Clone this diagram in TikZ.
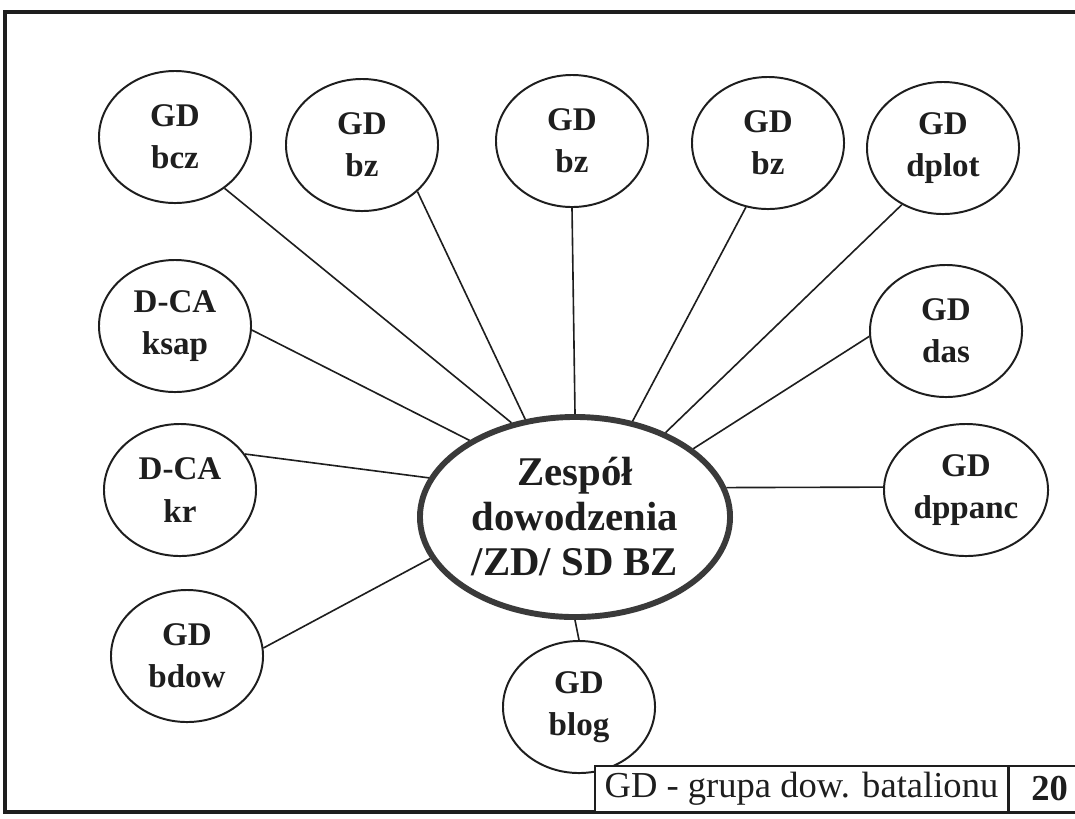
\documentclass[tikz,border=0pt]{standalone}
\usepackage{fontspec}
\setmainfont{Liberation Serif}
\usetikzlibrary{shapes.geometric, positioning}
\usepackage{xcolor}
\definecolor{cInk}{HTML}{1E1E1E}
\definecolor{cRim}{HTML}{3A3A3A}

\begin{document}
\begin{tikzpicture}[x=0.025cm, y=-0.025cm,
    unit/.style={ellipse, draw=cInk, line width=1.4pt, fill=white,
      minimum width=3.8cm, minimum height=3.3cm, inner sep=0pt,
      align=center, text=cInk, font=\fontsize{23.5}{30}\selectfont\bfseries},
    link/.style={draw=cInk, line width=1.15pt}]
  \useasboundingbox (0,0) rectangle (1075,818);
  \clip (0,0) rectangle (1075,818);

  % page frame
  \draw[cInk, line width=2.2pt] (5,12) rectangle (1090,812);

  % command team in the middle
  \node[ellipse, draw=cRim, line width=4.2pt, minimum width=7.75cm,
        minimum height=5cm, inner sep=0pt, align=center, text=cInk,
        font=\fontsize{29}{32}\selectfont\bfseries]
    (zd) at (575,517) {Zespół\\dowodzenia\\/ZD/ SD BZ};

  % battalion groups around it
  \foreach \name/\x/\y/\top/\bot in {bcz/175/137/GD/bcz, bza/362/145/GD/bz,
      bzb/572/141/GD/bz, bzc/768/143/GD/bz, dplot/943/148/GD/dplot,
      ksap/175/326/D-CA/ksap, das/946/331/GD/das, kr/180/490/D-CA/kr,
      bdow/187/656/GD/bdow, blog/579/707/GD/blog} {
    \node[unit] (\name) at (\x,\y) {\top\\\bot};
  }
  \node[unit, minimum width=4.1cm] (dppanc) at (966,490) {GD\\dppanc};

  % spokes: group anchor / centre anchor
  \foreach \name/\a/\b in {bcz/314/124, bza/320/117, bzb/270/90,
      bzc/251/59, dplot/234/43, das/184/30, dppanc/178/11, blog/90/270,
      bdow/6/196, kr/29/165, ksap/357/144} {
    \draw[link] (\name.\a) -- (zd.\b);
  }

  % legend strip
  \node[draw=cInk, line width=1.1pt, fill=white, minimum width=10.325cm,
        minimum height=1.15cm, inner sep=0pt, text=cInk,
        font=\fontsize{26}{26}\selectfont] (key) at (801.5,789) {GD - grupa dow. batalionu};
  \node[draw=cInk, line width=1.1pt, fill=white, minimum width=2cm,
        minimum height=1.15cm, inner sep=0pt, text=cInk,
        font=\fontsize{26}{26}\selectfont\bfseries, right=0pt of key] (num) {20};
\end{tikzpicture}
\end{document}
